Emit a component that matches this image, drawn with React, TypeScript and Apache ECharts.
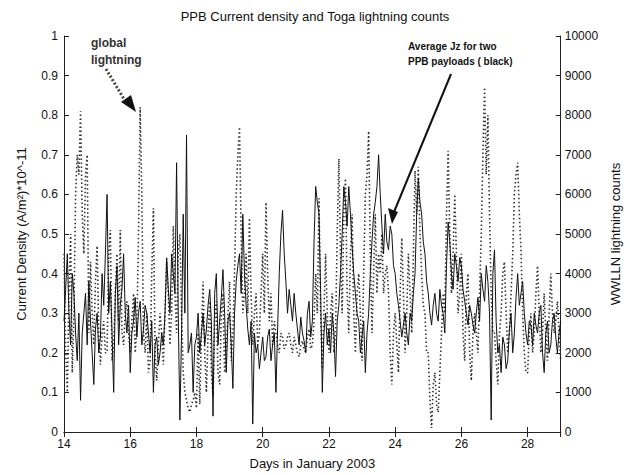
import React, { useEffect, useRef } from "react";
import * as echarts from "echarts";

const chartTitle = "PPB Current density and Toga lightning counts";
const xName = "Days in January 2003";
const leftName = "Current Density (A/m²)*10^-11";
const rightName = "WWLLN lightning counts";

const dayStart = 14;
const dayStep = 0.05;

// Average Jz (black), A/m^2 * 1e-11, sampled every 0.05 day from day 14 (one row per day)
const currentDensity = [
  0.28, 0.36, 0.45, 0.30, 0.22, 0.40, 0.35, 0.25, 0.18, 0.30, 0.08, 0.25, 0.30, 0.35, 0.22, 0.38, 0.28, 0.20, 0.12, 0.26,
  0.30, 0.20, 0.24, 0.40, 0.32, 0.45, 0.60, 0.30, 0.38, 0.25, 0.10, 0.35, 0.42, 0.22, 0.32, 0.36, 0.45, 0.30, 0.25, 0.32,
  0.15, 0.25, 0.28, 0.34, 0.24, 0.30, 0.33, 0.22, 0.26, 0.32, 0.30, 0.25, 0.20, 0.28, 0.10, 0.22, 0.24, 0.17, 0.20, 0.25,
  0.22, 0.30, 0.44, 0.36, 0.30, 0.45, 0.40, 0.35, 0.68, 0.30, 0.03, 0.25, 0.55, 0.30, 0.75, 0.20, 0.22, 0.25, 0.10, 0.22,
  0.24, 0.30, 0.20, 0.25, 0.30, 0.22, 0.26, 0.32, 0.36, 0.28, 0.04, 0.35, 0.40, 0.22, 0.28, 0.34, 0.41, 0.30, 0.15, 0.28,
  0.30, 0.22, 0.11, 0.30, 0.38, 0.42, 0.45, 0.35, 0.55, 0.40, 0.32, 0.26, 0.22, 0.28, 0.02, 0.25, 0.20, 0.22, 0.16, 0.20,
  0.24, 0.18, 0.19, 0.24, 0.26, 0.18, 0.22, 0.25, 0.10, 0.26, 0.40, 0.50, 0.56, 0.45, 0.38, 0.30, 0.36, 0.32, 0.28, 0.35,
  0.30, 0.26, 0.22, 0.29, 0.25, 0.23, 0.20, 0.30, 0.33, 0.24, 0.28, 0.48, 0.62, 0.58, 0.55, 0.35, 0.10, 0.25, 0.30, 0.22,
  0.26, 0.20, 0.30, 0.25, 0.14, 0.28, 0.32, 0.40, 0.50, 0.62, 0.58, 0.52, 0.62, 0.55, 0.47, 0.40, 0.35, 0.30, 0.28, 0.20,
  0.24, 0.28, 0.15, 0.25, 0.30, 0.40, 0.48, 0.55, 0.58, 0.62, 0.70, 0.60, 0.52, 0.45, 0.55, 0.48, 0.46, 0.52, 0.50, 0.42,
  0.40, 0.35, 0.32, 0.28, 0.24, 0.27, 0.30, 0.25, 0.22, 0.30, 0.28, 0.35, 0.40, 0.55, 0.64, 0.58, 0.55, 0.48, 0.45, 0.38,
  0.35, 0.30, 0.27, 0.32, 0.35, 0.30, 0.28, 0.36, 0.32, 0.30, 0.25, 0.42, 0.53, 0.48, 0.40, 0.36, 0.45, 0.42, 0.38, 0.44,
  0.42, 0.36, 0.33, 0.30, 0.27, 0.32, 0.30, 0.27, 0.25, 0.30, 0.34, 0.28, 0.40, 0.36, 0.33, 0.42, 0.38, 0.30, 0.03, 0.40,
  0.46, 0.28, 0.20, 0.22, 0.15, 0.24, 0.22, 0.16, 0.18, 0.26, 0.30, 0.20, 0.25, 0.34, 0.40, 0.32, 0.35, 0.38, 0.30, 0.25,
  0.22, 0.28, 0.27, 0.22, 0.30, 0.27, 0.25, 0.30, 0.32, 0.20, 0.15, 0.25, 0.28, 0.20, 0.22, 0.28, 0.30, 0.24, 0.20, 0.25,
  0.28,
];

// WWLLN lightning counts (dotted), sampled every 0.05 day from day 14 (one row per day)
const lightningCounts = [
  4500, 2000, 1000, 3500, 5000, 1500, 3000, 6000, 7000, 6500, 8100, 5500, 4500, 6500, 7000, 2500, 4300, 3000, 2200, 3800,
  4700, 2500, 1700, 2500, 2800, 2000, 2000, 4500, 5100, 1800, 2200, 3500, 4500, 2800, 5100, 2500, 2200, 3000, 3300, 2500,
  2000, 2800, 3500, 2000, 2600, 5000, 8200, 6000, 2500, 2000, 3000, 1500, 1800, 4000, 5650, 2000, 1300, 2200, 3000, 2500,
  1700, 3000, 4300, 3500, 2200, 3000, 5200, 3500, 2500, 4500, 5000, 3000, 1500, 1000, 800, 600, 500, 700, 800, 1000,
  600, 2500, 700, 2500, 3800, 2000, 1000, 2500, 3300, 1500, 900, 2800, 3300, 1500, 1200, 3000, 3500, 1500, 2000, 3000,
  3800, 1800, 2500, 4000, 6000, 7000, 7700, 5000, 3000, 3500, 4500, 3000, 5400, 3500, 2200, 3000, 3500, 2200, 2500, 3500,
  4500, 3000, 5800, 4000, 2800, 3500, 2200, 2800, 2500, 2200, 2000, 2500, 2400, 2100, 2200, 2400, 2500, 2200, 2000, 2400,
  2200, 2000, 1900, 2200, 2300, 2100, 2000, 2400, 2600, 2100, 2200, 2800, 4000, 3000, 5900, 3000, 1600, 3000, 4500, 3000,
  2000, 3000, 3500, 2000, 2500, 5000, 6900, 4500, 3000, 5500, 6400, 3500, 2500, 4500, 5500, 3000, 2000, 3500, 4000, 3000,
  1800, 4000, 6000, 6500, 7600, 4500, 2500, 4000, 5500, 3500, 4500, 4000, 5000, 3500, 4000, 4200, 3500, 2000, 1200, 2500,
  3000, 2200, 1500, 3500, 4900, 3500, 2000, 3000, 4500, 3500, 2500, 4500, 6600, 5500, 6700, 5000, 4000, 3200, 3000, 2000,
  2000, 800, 100, 1200, 1500, 700, 500, 1500, 2500, 3500, 3000, 5500, 7100, 5000, 3500, 4500, 6000, 4500, 3000, 3500,
  4500, 2500, 1800, 3500, 4000, 2000, 1300, 2500, 3000, 2500, 2000, 3500, 5000, 7000, 8700, 6500, 8000, 5500, 3500, 2500,
  2500, 1800, 1200, 2500, 3000, 4000, 4300, 3000, 2000, 2500, 3500, 4500, 6000, 6500, 6800, 5500, 4600, 3000, 2000, 1500,
  1500, 2500, 3000, 2000, 2500, 3500, 4200, 3000, 2000, 2500, 3500, 2500, 1800, 3000, 4000, 3000, 2500, 2800, 3300, 2500,
  1800,
];

const FONT = '"Liberation Sans", Arial, sans-serif';

export default function App() {
  const ref = useRef<HTMLDivElement>(null);
  useEffect(() => {
    const chart = echarts.init(ref.current!, null, { renderer: "svg" });
    const jz = currentDensity.map((v, i) => [dayStart + i * dayStep, v]);
    const lt = lightningCounts.map((v, i) => [dayStart + i * dayStep, v]);
    const axisLine = { show: true, lineStyle: { color: "#222", width: 1 } };
    const tick = { show: true, inside: true, length: 5, lineStyle: { color: "#222" } };
    const label = { color: "#111", fontSize: 12, fontFamily: FONT };
    chart.setOption({
      animation: false,
      backgroundColor: "#ffffff",
      title: {
        text: chartTitle,
        left: "center",
        top: 5,
        textStyle: { fontSize: 13, fontWeight: "normal", color: "#111", fontFamily: FONT },
      },
      grid: { left: 64, right: 64, top: 36, bottom: 43 },
      xAxis: [
        {
          type: "value",
          min: 14,
          max: 29,
          interval: 2,
          name: xName,
          nameLocation: "middle",
          nameGap: 25,
          nameTextStyle: { fontSize: 13, color: "#111", fontFamily: FONT },
          axisLine,
          axisTick: tick,
          axisLabel: { ...label, margin: 6, showMaxLabel: false, formatter: (v: number) => (v > 28 ? "" : String(v)) },
          splitLine: { show: false },
        },
        {
          type: "value",
          position: "top",
          min: 14,
          max: 29,
          interval: 2,
          axisLine,
          axisTick: tick,
          axisLabel: { show: false },
          splitLine: { show: false },
        },
      ],
      yAxis: [
        {
          type: "value",
          min: 0,
          max: 1,
          interval: 0.1,
          name: leftName,
          nameLocation: "middle",
          nameGap: 36,
          nameTextStyle: { fontSize: 13, color: "#111", fontFamily: FONT },
          axisLine,
          axisTick: tick,
          axisLabel: { ...label, margin: 6, formatter: (v: number) => String(Math.round(v * 10) / 10) },
          splitLine: { show: false },
        },
        {
          type: "value",
          min: 0,
          max: 10000,
          interval: 1000,
          position: "right",
          name: rightName,
          nameLocation: "middle",
          nameGap: 40,
          nameRotate: 90,
          nameTextStyle: { fontSize: 13, color: "#111", fontFamily: FONT },
          axisLine,
          axisTick: tick,
          axisLabel: { ...label, margin: 4, formatter: (v: number) => String(v) },
          splitLine: { show: false },
        },
      ],
      series: [
        {
          type: "line",
          name: "lightning",
          yAxisIndex: 1,
          data: lt,
          showSymbol: false,
          lineStyle: { color: "#333", width: 1.6, type: [1.5, 2.5] },
          z: 2,
        },
        {
          type: "line",
          name: "jz",
          data: jz,
          showSymbol: false,
          lineStyle: { color: "#111", width: 1 },
          z: 3,
        },
      ],
      graphic: [
        { type: "text", left: 91, top: 37, style: { text: "global", font: `bold 12px ${FONT}`, fill: "#333" } },
        { type: "text", left: 91, top: 54, style: { text: "lightning", font: `bold 12px ${FONT}`, fill: "#333" } },
        {
          type: "line",
          shape: { x1: 106, y1: 69, x2: 124, y2: 99 },
          style: { stroke: "#444", lineWidth: 3, lineDash: [2, 2] },
        },
        { type: "polygon", shape: { points: [[121, 102], [131, 95], [136, 112]] }, style: { fill: "#111" } },
        { type: "text", left: 408, top: 41, style: { text: "Average Jz for two", font: `bold 10px ${FONT}`, fill: "#111" } },
        { type: "text", left: 408, top: 56, style: { text: "PPB payloads ( black)", font: `bold 10px ${FONT}`, fill: "#111" } },
        {
          type: "line",
          shape: { x1: 451, y1: 74, x2: 394, y2: 212 },
          style: { stroke: "#111", lineWidth: 2 },
        },
        { type: "polygon", shape: { points: [[388, 208], [398, 212], [392, 224]] }, style: { fill: "#111" } },
      ],
    });
    return () => chart.dispose();
  }, []);
  return (
    <div
      ref={ref}
      style={{ position: "absolute", left: 0, top: 0, width: 630, height: 475, background: "#fff" }}
    />
  );
}
